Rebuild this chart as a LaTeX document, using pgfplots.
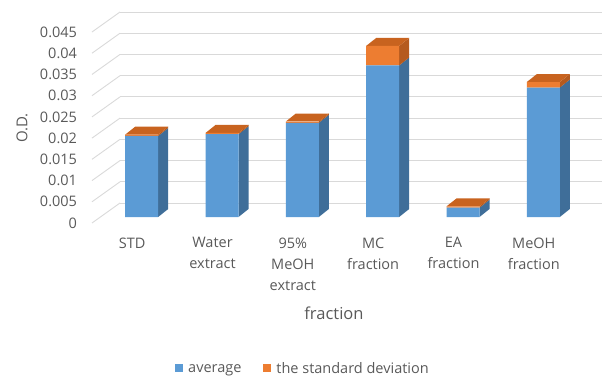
\documentclass[border=0pt]{standalone}
\usepackage{pgfplots}
\pgfplotsset{compat=1.18}
\usepackage{fontspec}
\setmainfont{Open Sans}
\definecolor{txt}{HTML}{595959}
\definecolor{gridc}{HTML}{D9D9D9}
\definecolor{bfront}{HTML}{5B9BD5}
\definecolor{bside}{HTML}{3F6E99}
\definecolor{ofront}{HTML}{ED7D31}
\definecolor{oside}{HTML}{B55A1E}
\definecolor{otop}{HTML}{C8631F}
\pgfplotsset{
  geom/.style={scale only axis, width=482bp, height=191bp,
    xmin=-0.5, xmax=5.5, ymin=0, ymax=0.045, anchor=south west, scaled y ticks=false},
  sq/.style={legend image code/.code={\path[##1] (0bp,-3.5bp) rectangle (8bp,4.5bp);}},
}
\begin{document}
\begin{tikzpicture}
\path[use as bounding box] (0,0) rectangle (606bp,376bp);
% back wall
\begin{axis}[geom, at={(120bp,173bp)},
  axis line style={draw=none}, xtick=\empty,
  ytick={0,0.005,0.01,0.015,0.02,0.025,0.03,0.035,0.04,0.045},
  yticklabels={}, major tick length=0,
  ymajorgrids, grid style={gridc, line width=0.9bp}]
\addplot[draw=none] coordinates {(0,0)};
\end{axis}
% front plane: labels and side wall lines
\begin{axis}[geom, at={(92bp,153bp)}, clip=false,
  axis line style={draw=none}, major tick length=0,
  xtick={0,1,2,3,4,5},
  xticklabels={STD, Water\\extract, 95\%\\MeOH\\extract, MC\\fraction, EA\\fraction, MeOH\\fraction},
  xticklabel style={align=center, font=\fontsize{14.5bp}{21bp}\selectfont, text=txt, anchor=north, yshift=-11bp},
  ytick={0,0.005,0.01,0.015,0.02,0.025,0.03,0.035,0.04,0.045},
  /pgf/number format/assume math mode=true,
  yticklabel={\pgfmathprintnumber[fixed,precision=3]{\tick}},
  yticklabel style={font=\fontsize{14.5bp}{17bp}\selectfont, text=txt, anchor=east, xshift=-11.5bp},
  xlabel={fraction}, ylabel={O.D.},
  xlabel style={at={(axis description cs:0.502,-0.471)}, anchor=center, font=\fontsize{16.5bp}{19bp}\selectfont, text=txt},
  ylabel style={at={(axis description cs:-0.145,0.497)}, anchor=center, rotate=0, font=\fontsize{15bp}{18bp}\selectfont, text=txt}]
\addplot[draw=none] coordinates {(0,0)};
\pgfplotsinvokeforeach{0,0.005,0.01,0.015,0.02,0.025,0.03,0.035,0.04,0.045}{
  \draw[gridc, line width=0.9bp] (axis cs:-0.5,#1) -- ++(28bp,20bp);
}
\end{axis}
% bar depth faces
\begin{axis}[geom, at={(101.5bp,159bp)}, hide axis, clip=false]
% blue sides
\addplot[fill=bside, draw=none, mark=none, forget plot] coordinates {(0.2054,0) (0.3299,0.00188) (0.3299,0.02098) (0.2054,0.0191)};
\addplot[fill=bside, draw=none, mark=none, forget plot] coordinates {(1.2054,0) (1.3299,0.00188) (1.3299,0.02138) (1.2054,0.0195)};
\addplot[fill=bside, draw=none, mark=none, forget plot] coordinates {(2.2054,0) (2.3299,0.00188) (2.3299,0.02408) (2.2054,0.0222)};
\addplot[fill=bside, draw=none, mark=none, forget plot] coordinates {(3.2054,0) (3.3299,0.00188) (3.3299,0.03758) (3.2054,0.0357)};
\addplot[fill=bside, draw=none, mark=none, forget plot] coordinates {(4.2054,0) (4.3299,0.00188) (4.3299,0.00408) (4.2054,0.0022)};
\addplot[fill=bside, draw=none, mark=none, forget plot] coordinates {(5.2054,0) (5.3299,0.00188) (5.3299,0.03238) (5.2054,0.0305)};
% orange sides
\addplot[fill=oside, draw=none, mark=none, forget plot] coordinates {(0.2054,0.0191) (0.3299,0.02098) (0.3299,0.02128) (0.2054,0.0194)};
\addplot[fill=oside, draw=none, mark=none, forget plot] coordinates {(1.2054,0.0195) (1.3299,0.02138) (1.3299,0.02168) (1.2054,0.0198)};
\addplot[fill=oside, draw=none, mark=none, forget plot] coordinates {(2.2054,0.0222) (2.3299,0.02408) (2.3299,0.02438) (2.2054,0.0225)};
\addplot[fill=oside, draw=none, mark=none, forget plot] coordinates {(3.2054,0.0357) (3.3299,0.03758) (3.3299,0.04218) (3.2054,0.0403)};
\addplot[fill=oside, draw=none, mark=none, forget plot] coordinates {(4.2054,0.0022) (4.3299,0.00408) (4.3299,0.00438) (4.2054,0.0025)};
\addplot[fill=oside, draw=none, mark=none, forget plot] coordinates {(5.2054,0.0305) (5.3299,0.03238) (5.3299,0.03368) (5.2054,0.0318)};
% tops
\addplot[fill=otop, draw=none, mark=none, forget plot] coordinates {(-0.2054,0.0194) (0.2054,0.0194) (0.3299,0.02128) (-0.0809,0.02128)};
\addplot[fill=otop, draw=none, mark=none, forget plot] coordinates {(0.7946,0.0198) (1.2054,0.0198) (1.3299,0.02168) (0.9191,0.02168)};
\addplot[fill=otop, draw=none, mark=none, forget plot] coordinates {(1.7946,0.0225) (2.2054,0.0225) (2.3299,0.02438) (1.9191,0.02438)};
\addplot[fill=otop, draw=none, mark=none, forget plot] coordinates {(2.7946,0.0403) (3.2054,0.0403) (3.3299,0.04218) (2.9191,0.04218)};
\addplot[fill=otop, draw=none, mark=none, forget plot] coordinates {(3.7946,0.0025) (4.2054,0.0025) (4.3299,0.00438) (3.9191,0.00438)};
\addplot[fill=otop, draw=none, mark=none, forget plot] coordinates {(4.7946,0.0318) (5.2054,0.0318) (5.3299,0.03368) (4.9191,0.03368)};
\end{axis}
% bar fronts
\begin{axis}[geom, at={(101.5bp,159bp)}, hide axis, clip=false,
  ybar stacked, bar width=33bp,
  legend columns=2,
  legend style={at={(0.418,-0.795)}, anchor=center, draw=none, fill=none,
    font=\fontsize{14.5bp}{17bp}\selectfont, text=txt,
    /tikz/every odd column/.append style={column sep=3bp},
    /tikz/every even column/.append style={column sep=20bp}}]
\addplot[fill=bfront, draw=none, sq] coordinates {(0,0.0191) (1,0.0195) (2,0.0222) (3,0.0357) (4,0.0022) (5,0.0305)};
\addplot[fill=ofront, draw=none, sq] coordinates {(0,0.0003) (1,0.0003) (2,0.0003) (3,0.0046) (4,0.0003) (5,0.0013)};
\legend{average, the standard deviation}
\end{axis}
\end{tikzpicture}
\end{document}
